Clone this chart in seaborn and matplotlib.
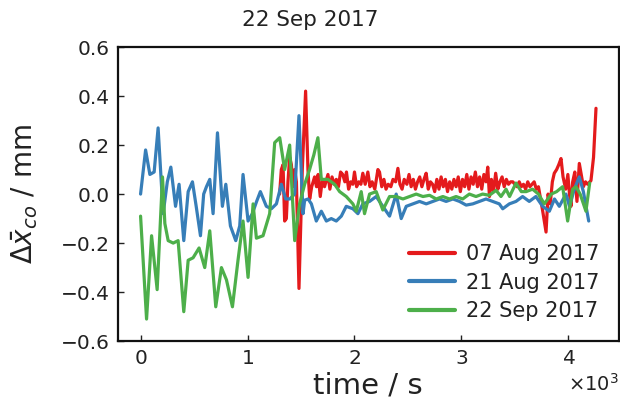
import numpy as np
import pandas as pd
import matplotlib
matplotlib.use("Agg")
import matplotlib.pyplot as plt
import seaborn as sns

labels = ["07 Aug 2017", "21 Aug 2017", "22 Sep 2017"]
colors = ["#e41a1c", "#377eb8", "#4daf4a"]

t_red = [1300, 1316, 1332, 1347, 1363, 1378, 1394, 1410, 1425, 1441, 1457, 1481, 1512, 1543, 1565,
         1581, 1600, 1627, 1645, 1660, 1680, 1700, 1720, 1752, 1770, 1790, 1810, 1830, 1850, 1870,
         1890, 1910, 1925, 1945, 1965, 1985, 2000, 2020, 2040, 2060, 2078, 2100, 2125, 2145, 2165,
         2190, 2219, 2234, 2255, 2275, 2295, 2315, 2340, 2360, 2385, 2406, 2425, 2445, 2465, 2490,
         2510, 2530, 2550, 2570, 2590, 2610, 2630, 2650, 2670, 2690, 2710, 2730, 2750, 2770, 2790,
         2810, 2830, 2850, 2870, 2890, 2910, 2930, 2950, 2970, 2990, 3010, 3030, 3050, 3070, 3090,
         3110, 3130, 3150, 3170, 3190, 3210, 3230, 3246, 3262, 3280, 3300, 3320, 3340, 3360, 3380,
         3400, 3420, 3440, 3460, 3480, 3500, 3520, 3540, 3560, 3580, 3600, 3620, 3640, 3660, 3680,
         3700, 3720, 3740, 3760, 3791, 3810, 3830, 3850, 3868, 3890, 3910, 3931, 3950, 3975, 3995,
         4010, 4024, 4040, 4060, 4080, 4102, 4120, 4140, 4160, 4180, 4200, 4211, 4235, 4258]
v_red = [0.00, 0.10, 0.12, -0.11, -0.10, 0.05, 0.15, 0.12, 0.03, 0.10, 0.05, -0.385, 0.10, 0.42, 0.10,
         -0.02, 0.03, 0.07, 0.03, 0.08, -0.01, 0.06, 0.03, 0.08, 0.02, 0.07, 0.04, 0.06, 0.03, 0.09,
         0.08, 0.05, 0.09, 0.02, 0.05, 0.04, 0.09, 0.03, 0.05, 0.04, 0.085, 0.04, 0.09, 0.03, 0.05,
         0.02, 0.10, 0.09, 0.03, 0.06, 0.02, 0.04, 0.03, 0.06, 0.05, 0.105, 0.04, 0.02, 0.06, 0.04,
         0.08, 0.03, 0.06, 0.02, 0.05, 0.07, 0.03, 0.06, 0.085, 0.02, 0.05, 0.04, 0.01, 0.06, 0.02,
         0.07, 0.03, 0.06, 0.01, 0.05, 0.02, 0.06, 0.03, 0.07, 0.01, 0.06, 0.03, 0.08, 0.02, 0.07,
         0.04, 0.09, 0.03, 0.07, 0.02, 0.08, 0.05, 0.11, -0.01, 0.06, 0.01, 0.085, 0.02, 0.05, 0.07,
         0.03, 0.06, 0.04, 0.05, 0.05, 0.04, 0.03, 0.05, 0.03, 0.04, 0.02, 0.05, 0.03, 0.04, 0.05,
         0.02, 0.03, -0.02, -0.07, -0.155, 0.00, -0.04, 0.05, 0.085, 0.10, 0.12, 0.145, 0.07, 0.02, 0.08,
         0.00, -0.05, 0.05, 0.09, -0.03, 0.125, 0.08, 0.03, 0.05, 0.04, 0.05, 0.055, 0.15, 0.35]

t_blue = [0, 47, 87, 127, 164, 211, 250, 283, 327, 360, 404, 445, 485, 520, 560, 590, 616, 647, 678,
          719, 765, 797, 840, 890, 927, 958, 1005, 1045, 1085, 1120, 1176, 1223, 1270, 1316, 1357,
          1395, 1441, 1481, 1519, 1534, 1566, 1597, 1643, 1690, 1737, 1783, 1830, 1877, 1923, 1985,
          2032, 2078, 2141, 2203, 2265, 2328, 2390, 2437, 2484, 2546, 2608, 2671, 2733, 2795, 2857,
          2920, 2982, 3044, 3106, 3168, 3230, 3292, 3354, 3386, 3448, 3510, 3572, 3634, 3696, 3759,
          3822, 3870, 3915, 3977, 4010, 4055, 4102, 4140, 4190]
v_blue = [0.00, 0.18, 0.08, 0.09, 0.27, -0.08, 0.05, 0.11, -0.05, 0.04, -0.19, 0.01, 0.05, -0.05, -0.17,
          0.00, 0.03, 0.06, -0.08, 0.25, -0.05, 0.04, -0.13, -0.19, -0.13, 0.08, -0.11, -0.08, -0.03,
          0.01, -0.05, -0.06, -0.04, 0.04, -0.02, -0.02, 0.00, 0.32, -0.08, -0.025, -0.02, -0.04, -0.11,
          -0.07, -0.11, -0.10, -0.11, -0.09, -0.05, -0.06, -0.08, -0.04, -0.03, -0.01, -0.05, -0.09, 0.00,
          -0.10, -0.05, -0.04, -0.03, -0.04, -0.03, -0.02, -0.03, -0.02, -0.03, -0.045, -0.04, -0.03,
          -0.02, -0.03, -0.04, -0.06, -0.04, -0.03, -0.01, -0.03, -0.01, -0.05, -0.07, -0.02, -0.05,
          0.00, -0.05, 0.02, 0.07, 0.01, -0.11]

t_green = [0, 56, 103, 155, 205, 227, 258, 305, 351, 404, 445, 491, 547, 600, 647, 703, 756, 803,
           859, 911, 958, 1005, 1052, 1083, 1145, 1207, 1254, 1301, 1347, 1394, 1441, 1487, 1534,
           1580, 1620, 1658, 1690, 1752, 1814, 1861, 1923, 1985, 2017, 2063, 2094, 2141, 2203, 2265,
           2328, 2390, 2453, 2515, 2577, 2640, 2702, 2764, 2826, 2888, 2950, 3012, 3074, 3136, 3198,
           3260, 3324, 3370, 3417, 3450, 3510, 3560, 3605, 3665, 3720, 3775, 3840, 3890, 3946, 3993,
           4040, 4071, 4110, 4164, 4199]
v_green = [-0.09, -0.51, -0.17, -0.39, 0.07, -0.12, -0.19, -0.20, -0.19, -0.48, -0.27, -0.26, -0.22,
           -0.30, -0.15, -0.46, -0.30, -0.35, -0.46, -0.27, -0.11, -0.34, -0.04, -0.18, -0.17, -0.08,
           0.21, 0.23, 0.10, 0.20, -0.19, -0.04, 0.04, 0.10, 0.16, 0.23, 0.06, 0.06, 0.04, 0.01, -0.01,
           -0.04, -0.07, 0.01, -0.08, 0.00, 0.01, -0.065, -0.01, -0.01, -0.02, -0.01, 0.00, -0.01,
           -0.005, -0.02, -0.01, -0.02, -0.01, -0.02, 0.00, -0.01, 0.00, -0.005, 0.015, -0.01, 0.02,
           -0.01, 0.045, 0.01, 0.01, 0.02, 0.00, -0.04, 0.00, 0.01, 0.03, -0.11, 0.02, 0.03, 0.00,
           -0.07, 0.045]

frames = []
for lab, tt, vv in zip(labels, [t_red, t_blue, t_green], [v_red, v_blue, v_green]):
    frames.append(pd.DataFrame({"time": tt, "dx": vv, "date": lab}))
df = pd.concat(frames, ignore_index=True)

sns.set_style("ticks")
plt.rcParams["font.family"] = ["DejaVu Sans"]

fig = plt.figure(figsize=(6.2, 4.09), dpi=100)
ax = fig.add_axes([0.190, 0.166, 0.808, 0.719])

sns.lineplot(data=df, x="time", y="dx", hue="date", hue_order=labels,
             palette=colors, linewidth=2.3, sort=False, estimator=None, ax=ax)

ax.set_ylim(-0.6, 0.6)
ax.set_yticks([-0.6, -0.4, -0.2, 0.0, 0.2, 0.4, 0.6])
ax.set_xticks([0, 1000, 2000, 3000, 4000])
ax.ticklabel_format(style="sci", axis="x", scilimits=(3, 3), useMathText=True)
ax.xaxis.get_offset_text().set_fontsize(14)
ax.xaxis.get_offset_text().set_color("#222222")
ax.tick_params(direction="in", length=4, width=1, labelsize=14.5, colors="#222222", pad=6)
for sp in ax.spines.values():
    sp.set_linewidth(1.6)
    sp.set_color("#111111")

ax.set_xlabel("time / s", fontsize=21, color="#222222")
ax.set_ylabel(r"$\Delta\bar{x}_{co}$ / mm", fontsize=20, color="#222222")
ax.yaxis.set_label_coords(-0.155, 0.5)
ax.xaxis.set_label_coords(0.5, -0.105)
fig.text(0.5, 0.95, "22 Sep 2017", ha="center", va="center", fontsize=15.5, color="#222222")

leg = ax.legend(loc="lower right", frameon=False, fontsize=15, handlelength=2.2,
                labelspacing=0.42, borderaxespad=0.55, handletextpad=0.5)
for h in leg.get_lines():
    h.set_linewidth(3)
for t in leg.get_texts():
    t.set_color("#222222")

fig.savefig("out.png", dpi=100)
